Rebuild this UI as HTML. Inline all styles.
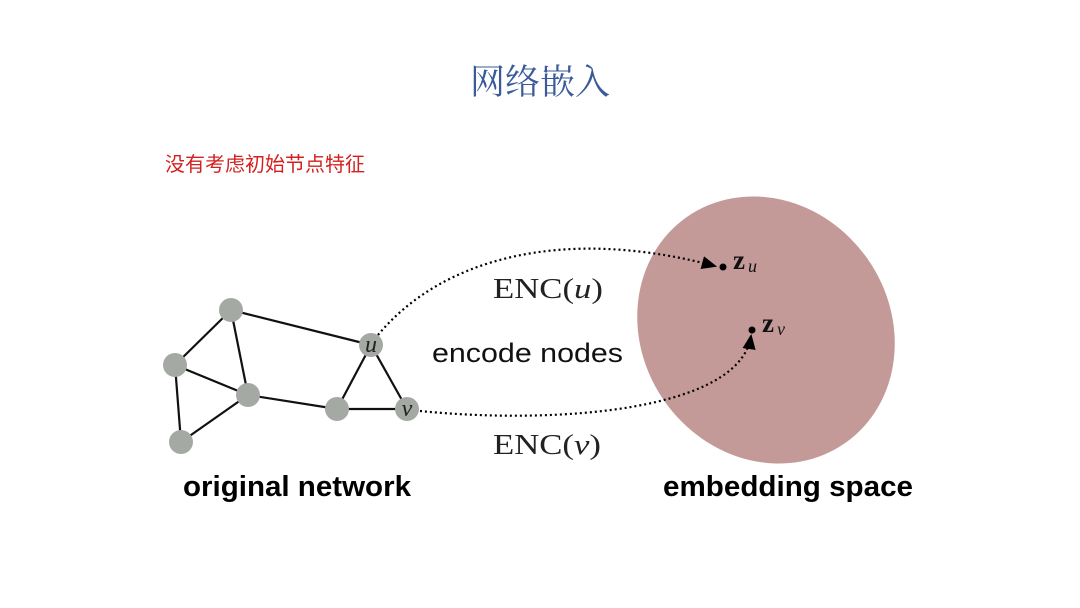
<!DOCTYPE html>
<html><head><meta charset="utf-8"><style>
html,body{margin:0;padding:0;background:#fff;width:1080px;height:608px;overflow:hidden}
</style></head><body>
<svg width="1080" height="608" xmlns="http://www.w3.org/2000/svg">
<defs><marker id="a" markerWidth="8" markerHeight="8" refX="6" refY="4" orient="auto"><path d="M0,1 L7,4 L0,7 Z" fill="#000"/></marker></defs>
<text x="540" y="94" text-anchor="middle" font-family="Noto Serif CJK SC, serif" font-size="35" fill="#3a5a9a">网络嵌入</text>
<text x="165" y="171" font-family="Liberation Sans, Noto Sans CJK SC, sans-serif" font-size="20" fill="#d42020">没有考虑初始节点特征</text>
<ellipse cx="766" cy="330" rx="138" ry="124" transform="rotate(55 766 330)" fill="#c49a98"/>
<g stroke="#111" stroke-width="2.2">
<line x1="231" y1="310" x2="175" y2="365"/><line x1="231" y1="310" x2="248" y2="395"/>
<line x1="231" y1="310" x2="371" y2="345"/><line x1="175" y1="365" x2="248" y2="395"/>
<line x1="175" y1="365" x2="181" y2="442"/><line x1="248" y1="395" x2="181" y2="442"/>
<line x1="248" y1="395" x2="337" y2="409"/><line x1="337" y1="409" x2="407" y2="409"/>
<line x1="337" y1="409" x2="371" y2="345"/><line x1="371" y1="345" x2="407" y2="409"/>
</g>
<g fill="#a4aaa3">
<circle cx="231" cy="310" r="12"/><circle cx="175" cy="365" r="12"/><circle cx="248" cy="395" r="12"/>
<circle cx="181" cy="442" r="12"/><circle cx="337" cy="409" r="12"/><circle cx="371" cy="345" r="12"/><circle cx="407" cy="409" r="12"/>
</g>
<text x="371" y="352" text-anchor="middle" font-family="Liberation Serif, serif" font-style="italic" font-size="24" fill="#222">u</text>
<text x="407" y="416" text-anchor="middle" font-family="Liberation Serif, serif" font-style="italic" font-size="24" fill="#222">v</text>
<g fill="none" stroke="#000" stroke-width="2.2" stroke-dasharray="2,3">
<path d="M378,335 C440,260 560,225 715,266" marker-end="url(#a)"/>
<path d="M420,411 C560,425 740,410 751,336" marker-end="url(#a)"/>
</g>
<circle cx="723" cy="267" r="3.5" fill="#000"/><circle cx="752" cy="330" r="3.5" fill="#000"/>
<text x="733" y="269" font-family="Liberation Serif, serif" font-weight="bold" font-size="27" fill="#111">z</text>
<text x="748" y="272" font-family="Liberation Serif, serif" font-style="italic" font-size="18" fill="#111">u</text>
<text x="762" y="332" font-family="Liberation Serif, serif" font-weight="bold" font-size="27" fill="#111">z</text>
<text x="777" y="335" font-family="Liberation Serif, serif" font-style="italic" font-size="18" fill="#111">v</text>
<text x="493" y="298" font-family="Liberation Serif, serif" font-size="29" fill="#222" textLength="110" lengthAdjust="spacingAndGlyphs">ENC(<tspan font-style="italic">u</tspan>)</text>
<text x="493" y="454" font-family="Liberation Serif, serif" font-size="29" fill="#222" textLength="108" lengthAdjust="spacingAndGlyphs">ENC(<tspan font-style="italic">v</tspan>)</text>
<text x="432" y="362" font-family="Liberation Sans, sans-serif" font-size="27" fill="#111" textLength="191" lengthAdjust="spacingAndGlyphs">encode nodes</text>
<text x="183" y="496" font-family="Liberation Sans, sans-serif" font-weight="bold" font-size="29" fill="#000" textLength="228" lengthAdjust="spacingAndGlyphs">original network</text>
<text x="663" y="496" font-family="Liberation Sans, sans-serif" font-weight="bold" font-size="29" fill="#000" textLength="250" lengthAdjust="spacingAndGlyphs">embedding space</text>
</svg>
</body></html>
